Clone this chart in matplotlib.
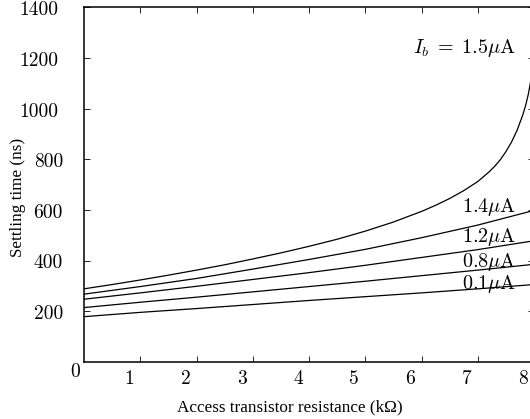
import matplotlib
matplotlib.use("Agg")
import matplotlib.pyplot as plt
from matplotlib import transforms

plt.rcParams['font.family'] = ['cmr10', 'DejaVu Serif']
plt.rcParams['mathtext.fontset'] = 'cm'
plt.rcParams['axes.unicode_minus'] = False
plt.rcParams['axes.formatter.use_mathtext'] = True

# Data
x_main = [0, 1, 2, 3, 4, 5, 6, 7, 8]
t_01 = [178, 195, 210, 226, 242, 257, 272, 288, 305]
t_08 = [214, 235, 255, 276, 297, 318, 340, 362, 385]
t_12 = [247, 272, 298, 325, 352, 381, 412, 443, 478]
t_14 = [267, 297, 329, 366, 404, 444, 490, 540, 598]
x_15 = [0, 0.5, 1, 1.5, 2, 2.5, 3, 3.5, 4, 4.5, 5, 5.5, 6, 6.25, 6.5, 6.75,
        7, 7.2, 7.3, 7.4, 7.5, 7.6, 7.7, 7.8, 7.85, 7.9, 7.95, 8]
t_15 = [288, 305, 323, 342, 362, 383, 406, 430, 456, 484, 516, 552, 594, 618, 645, 676,
        712, 750, 772, 798, 830, 868, 915, 975, 1012, 1058, 1120, 1200]

curve_labels = [r"$I_b\;=\;1.5\mu$A", r"$1.4\mu$A", r"$1.2\mu$A", r"$0.8\mu$A", r"$0.1\mu$A"]
label_y = [1238, 613, 494, 395, 308]
label_x = 7.68

x_ticks = [1, 2, 3, 4, 5, 6, 7, 8]
y_ticks = [200, 400, 600, 800, 1000, 1200, 1400]

W, H = 530, 419
fig = plt.figure(figsize=(W / 100, H / 100), dpi=100)
ax = fig.add_axes([84 / W, (H - 361.7) / H, (534 - 84) / W, (361.7 - 7.5) / H])

for ys, xs in [(t_01, x_main), (t_08, x_main), (t_12, x_main), (t_14, x_main), (t_15, x_15)]:
    ax.plot(xs, ys, color='black', lw=0.9)

for lab, ly in zip(curve_labels, label_y):
    ax.text(label_x, ly, lab, ha='right', va='center', fontsize=14.5)

ax.set_xlim(0, 8)
ax.set_ylim(0, 1400)
for s in ax.spines.values():
    s.set_linewidth(1.1)

ax.tick_params(direction='in', length=4, width=0.6, top=True, right=True,
               labelbottom=False, labelleft=False)
ax.set_xticks(x_ticks)
ax.set_yticks(y_ticks)

# x tick labels (shifted left of the ticks, as in the reference)
tx = transforms.blended_transform_factory(ax.transData, ax.transAxes)
off_x = transforms.offset_copy(tx, fig=fig, x=-11, y=-17, units='dots')
for v in x_ticks:
    ax.text(v, 0, str(v), transform=off_x, ha='center', va='center', fontsize=14)

# y tick labels
ty = transforms.blended_transform_factory(ax.transAxes, ax.transData)
for v in y_ticks:
    s = str(v)
    dx = -26 if len(s) == 4 else -21
    off_y = transforms.offset_copy(ty, fig=fig, x=dx, y=-3, units='dots')
    ax.text(0, v, s, transform=off_y, ha='right', va='center', fontsize=14)

fig.text(75 / W, (H - 372) / H, "0", ha='center', va='center', fontsize=14)

fig.text(290 / W, (H - 407) / H, "Access transistor resistance (k\u03a9)",
         ha='center', va='center', fontsize=12.3, family='Liberation Serif')
fig.text(18 / W, (H - 197) / H, "Settling time (ns)", rotation=90,
         ha='center', va='center', fontsize=12.3, family='Liberation Serif')

fig.savefig("out.png", dpi=100)
